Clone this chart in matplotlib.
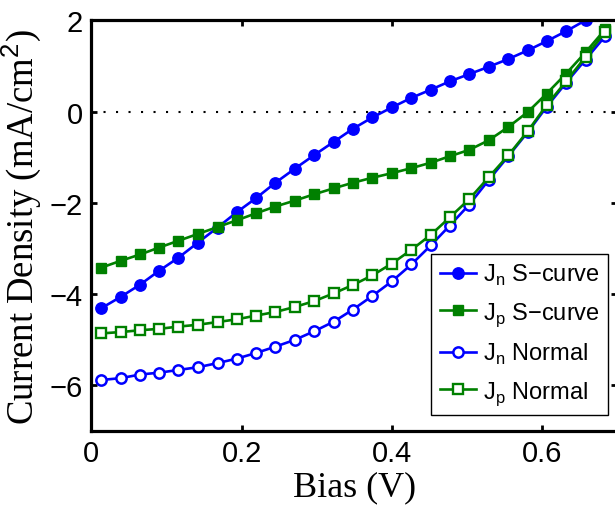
import numpy as np
import matplotlib
matplotlib.use('Agg')
import matplotlib.pyplot as plt

bias = [0.013, 0.039, 0.065, 0.090, 0.116, 0.142, 0.168, 0.194, 0.219,
        0.245, 0.271, 0.297, 0.323, 0.348, 0.374, 0.400, 0.426, 0.452,
        0.477, 0.503, 0.529, 0.555, 0.581, 0.606, 0.632, 0.658, 0.684]

jn_s = [-4.31, -4.06, -3.79, -3.49, -3.20, -2.87, -2.54, -2.20, -1.90,
        -1.56, -1.25, -0.95, -0.66, -0.38, -0.13, 0.09, 0.30, 0.48,
        0.66, 0.82, 0.98, 1.15, 1.34, 1.54, 1.76, 2.00, 2.25]
jp_s = [-3.42, -3.27, -3.13, -2.98, -2.83, -2.68, -2.53, -2.38, -2.23,
        -2.08, -1.95, -1.81, -1.68, -1.56, -1.45, -1.35, -1.24, -1.12,
        -0.98, -0.84, -0.63, -0.34, -0.01, 0.39, 0.83, 1.30, 1.80]
jn_norm = [-5.88, -5.84, -5.76, -5.72, -5.66, -5.60, -5.51, -5.41, -5.29,
           -5.15, -5.00, -4.81, -4.60, -4.34, -4.04, -3.72, -3.35, -2.93,
           -2.50, -2.04, -1.50, -0.98, -0.45, 0.10, 0.63, 1.14, 1.65]
jp_norm = [-4.86, -4.83, -4.79, -4.76, -4.71, -4.67, -4.61, -4.55, -4.47,
           -4.39, -4.28, -4.15, -3.98, -3.80, -3.59, -3.33, -3.03, -2.70,
           -2.32, -1.92, -1.44, -0.96, -0.43, 0.14, 0.66, 1.20, 1.74]

blue = '#0000ff'
green = '#008000'

plt.rcParams['font.family'] = ['Liberation Sans', 'DejaVu Sans']
plt.rcParams['mathtext.fontset'] = 'custom'
plt.rcParams['mathtext.rm'] = 'Liberation Sans'

fig = plt.figure(figsize=(6.15, 5.06), dpi=100)
ax = fig.add_axes([0.1485, 0.146, 0.855, 0.812])

ax.axhline(0, color='k', lw=1.5, ls=(0, (1, 5)), zorder=1)

ax.plot(bias, jn_s, c=blue, lw=1.9, marker='o', ms=8.2, mfc=blue, mec=blue,
        label='J$_\\mathregular{n}$ S\u2212curve')
ax.plot(bias, jp_s, c=green, lw=1.9, marker='s', ms=7, mfc=green, mec=green,
        label='J$_\\mathregular{p}$ S\u2212curve')
ax.plot(bias, jn_norm, c=blue, lw=1.9, marker='o', ms=7.4, mfc='white',
        mec=blue, mew=1.8, label='J$_\\mathregular{n}$ Normal')
ax.plot(bias, jp_norm, c=green, lw=1.9, marker='s', ms=6.7, mfc='white',
        mec=green, mew=1.7, label='J$_\\mathregular{p}$ Normal')

ax.set_xlim(0, 0.7)
ax.set_ylim(-7, 2)
ax.set_xticks([0, 0.2, 0.4, 0.6])
ax.set_xticklabels(['0', '0.2', '0.4', '0.6'])
ax.set_yticks([-6, -4, -2, 0, 2])
ax.set_yticklabels(['\u22126', '\u22124', '\u22122', '0', '2'])
ax.tick_params(direction='in', length=4, width=2, labelsize=21,
               top=True, right=True, pad=6)
for s in ax.spines.values():
    s.set_linewidth(2.3)

ax.set_xlabel('Bias (V)', fontsize=26, family='Liberation Serif', labelpad=2)
ax.set_ylabel('Current Density (mA/cm$^2$)', fontsize=26.5,
              family='Liberation Serif', labelpad=4)

leg = ax.legend(loc='lower right', bbox_to_anchor=(0.983, 0.039),
                fontsize=17, frameon=True, fancybox=False, framealpha=1,
                edgecolor='k', handlelength=1.55, handletextpad=0.3,
                labelspacing=0.55, borderpad=0.35, borderaxespad=0)
leg.get_frame().set_linewidth(1.0)

plt.savefig('out.png', dpi=100)
